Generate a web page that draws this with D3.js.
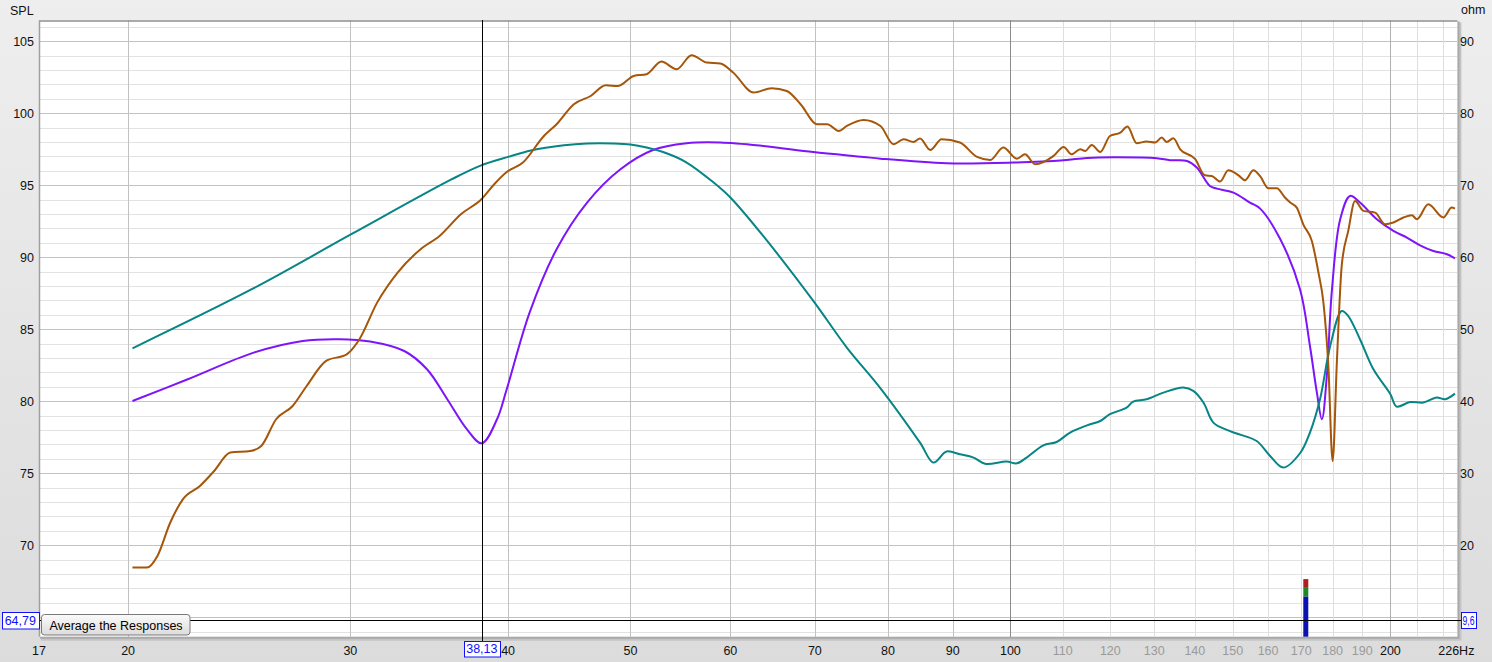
<!DOCTYPE html>
<html><head><meta charset="utf-8">
<script src="https://cdn.jsdelivr.net/npm/d3@7/dist/d3.min.js"></script>
<style>
html,body{margin:0;padding:0;overflow:hidden;background:#e2e2e2;}
svg{display:block;font-family:"Liberation Sans",Arial,sans-serif;}
</style>
</head><body>
<svg id="chart" width="1492" height="662"></svg>
<script>
// ---------------- data (frequency Hz, SPL dB) ----------------
const brownResponse = [
[20.16,68.45],[20.7,68.45],[21.1,69.26],[21.6,71.58],[22.1,73.19],[22.8,74.12],[23.4,75.16],[24.1,76.44],
[25.0,76.55],[25.5,76.90],[26.2,78.75],[27.0,79.67],[27.7,81.06],[28.7,82.80],[29.8,83.26],[30.5,84.31],
[31.5,86.85],[32.7,88.94],[34.1,90.56],[35.3,91.48],[36.7,92.99],[38.1,94.03],[39.0,95.07],[39.9,95.92],
[41.1,96.58],[42.7,98.42],[43.7,99.24],[45.1,100.63],[46.5,101.20],[47.8,101.94],[48.9,101.90],[50.3,102.59],
[51.5,102.71],[52.9,103.59],[54.4,103.06],[55.9,104.03],[57.5,103.52],[58.9,103.45],[60.3,102.83],[62.6,101.44],
[64.7,101.74],[66.5,101.55],[68.2,100.63],[70.3,99.24],[71.6,99.24],[73.1,98.77],[74.2,99.12],[76.5,99.53],
[78.9,99.12],[80.8,97.85],[82.3,98.19],[83.8,98.01],[84.8,98.24],[86.4,97.45],[88.2,98.19],[91.2,97.97],
[94.1,96.97],[96.4,96.76],[98.7,97.62],[101.2,96.85],[102.7,97.15],[104.6,96.46],[108.2,97.04],[110.2,97.66],
[111.8,97.15],[113.6,97.50],[114.6,97.38],[116.0,97.80],[117.8,97.31],[119.9,98.42],[122.2,98.66],[123.8,99.08],
[125.9,97.92],[128.2,98.04],[130.2,97.97],[131.8,98.31],[133.0,98.01],[134.6,98.26],[136.3,97.50],[140.1,96.81],
[142.6,95.69],[144.4,95.65],[146.6,95.26],[148.8,96.04],[151.6,95.69],[153.4,95.35],[155.8,96.04],[157.7,95.63],
[160.1,94.79],[162.6,94.79],[165.0,94.15],[166.6,93.80],[168.6,93.45],[170.6,92.29],[173.3,91.13],[175.4,88.94],
[177.0,86.85],[178.6,82.45],[180.0,75.85],[181.4,82.76],[183.0,89.40],[185.2,91.83],[187.5,93.91],[190.4,93.22],
[194.5,93.10],[198.1,92.29],[201.1,92.41],[204.8,92.76],[208.0,92.92],[209.9,92.64],[214.3,93.68],[220.3,92.76],
[223.7,93.45],[225.0,93.38]
];
const tealResponse = [
[20.16,83.68],[25.15,87.85],[30.05,91.6],[36.1,95.42],[38.0,96.35],[40.0,96.97],[41.7,97.42],
[44.3,97.78],[46.2,97.90],[48.5,97.90],[50.0,97.83],[51.5,97.62],[53.4,97.22],[55.4,96.58],[58.2,95.19],
[60.0,94.15],[63.7,91.48],[69.8,86.97],[74.2,83.73],[78.9,80.9],[84.8,77.13],[86.9,75.74],[89.0,76.51],
[91.2,76.32],[93.5,76.09],[95.5,75.66],[99.3,75.81],[101.2,75.69],[103.0,76.09],[106.2,76.94],[108.8,77.17],
[111.5,77.83],[115.0,78.33],[117.8,78.63],[119.9,79.10],[123.6,79.56],[125.1,79.98],[128.2,80.14],[132.2,80.60],
[137.1,80.95],[139.6,80.72],[142.2,79.91],[144.8,78.52],[148.4,78.01],[151.1,77.76],[156.7,77.24],[160.6,76.20],
[164.5,75.40],[169.6,76.39],[172.7,77.83],[175.9,80.14],[179.2,83.84],[183.0,86.27],[185.2,85.92],[189.2,84.31],
[193.9,82.22],[200.0,80.49],[202.3,79.63],[207.3,79.95],[212.4,79.91],[217.6,80.26],[221.0,80.14],[225.0,80.53]
];
const purpleResponse = [
[20.16,80.02],[22.3,81.53],[25.15,83.38],[27.5,84.19],[29.4,84.31],[31.1,84.15],[33.1,83.49],[34.5,82.22],
[35.8,80.14],[37.1,78.06],[38.13,77.08],[39.2,78.75],[39.9,80.83],[41.6,86.16],[43.7,90.56],[46.2,93.80],
[49.1,96.11],[52.1,97.45],[55.4,97.92],[58.9,97.97],[63.7,97.73],[69.8,97.31],[76.5,96.97],[78.9,96.85],
[89.0,96.53],[100.5,96.58],[110.2,96.74],[115.0,96.90],[120.7,96.94],[130.6,96.88],[133.8,96.74],[138.0,96.69],
[140.5,96.23],[143.9,94.95],[145.7,94.77],[150.2,94.49],[154.8,93.80],[157.7,93.38],[163.5,91.3],[169.6,87.78],
[172.7,83.84],[174.9,80.60],[176.5,78.75],[178.1,81.76],[179.7,87.55],[182.5,92.64],[185.8,94.26],[189.2,93.80],
[195.1,92.64],[201.1,91.83],[206.1,91.37],[211.1,90.83],[216.3,90.44],[221.7,90.21],[225.0,89.93]
];

const splTicks = [70,75,80,85,90,95,100,105];
const ohmTicks = [20,30,40,50,60,70,80,90];
const freqLabels = [17,20,30,40,50,60,70,80,90,100,110,120,130,140,150,160,170,180,190,200];
const grayLabelFreqs = [110,120,130,140,150,160,170,180,190];
const gridFreqs = [20,30,40,50,60,70,80,90,100,110,120,130,140,150,160,170,180,190,200,210,220];
const endFreq = 226;
const cursorFreq = 38.13;
const cursorText = "38,13";
const markerSpl = 64.79;
const markerSplText = "64,79";
const markerOhmText = "9,6";
const levelBarFreq = 171.4;
const levelBarStops = [63.65, 66.45, 67.1, 67.65];
const levelBarColors = ["#0a12b0", "#1c8a24", "#b01e1e"];

// ---------------- scales ----------------
const svg = d3.select("#chart");
const W = 1492, H = 662;
const plot = {left: 39, right: 1457.4, top: 20.4, bottom: 636.7};
const x = d3.scaleLog().domain([17, 226]).range([plot.left, plot.right]);
const y = d3.scaleLinear().domain([63.65, 106.45]).range([plot.bottom, plot.top]);
const yOhm = d3.scaleLinear().domain([2*63.65-120, 2*106.45-120]).range([plot.bottom, plot.top]);

// background
const defs = svg.append("defs");
const bg = defs.append("linearGradient").attr("id","bg").attr("x1",0).attr("y1",0).attr("x2",0).attr("y2",1);
bg.append("stop").attr("offset","0%").attr("stop-color","#eeeeee");
bg.append("stop").attr("offset","100%").attr("stop-color","#dcdcdc");
svg.append("rect").attr("width",W).attr("height",H).attr("fill","url(#bg)");

const btnG = defs.append("linearGradient").attr("id","btn").attr("x1",0).attr("y1",0).attr("x2",0).attr("y2",1);
btnG.append("stop").attr("offset","0%").attr("stop-color","#fbfbfb");
btnG.append("stop").attr("offset","100%").attr("stop-color","#dcdcdc");

// plot frame shadow
svg.append("rect").attr("x",plot.left+2).attr("y",plot.top+2)
  .attr("width",plot.right-plot.left+2).attr("height",plot.bottom-plot.top+2).attr("fill","#c4c4c4");
svg.append("rect").attr("x",plot.left+1).attr("y",plot.top+1)
  .attr("width",plot.right-plot.left+1).attr("height",plot.bottom-plot.top+1).attr("fill","#a9a9a9");
svg.append("rect").attr("x",plot.left).attr("y",plot.top)
  .attr("width",plot.right-plot.left).attr("height",plot.bottom-plot.top).attr("fill","#ffffff");

const grid = svg.append("g").attr("shape-rendering","crispEdges");
d3.range(64, 107).forEach(v => {
  const yy = Math.round(y(v)) + 0.5;
  grid.append("line").attr("x1",plot.left).attr("x2",plot.right).attr("y1",yy).attr("y2",yy)
    .attr("stroke", v % 5 === 0 ? "#c2c2c2" : "#e2e2e2").attr("stroke-width",1);
});
gridFreqs.forEach(f => {
  const xx = Math.round(x(f)) + 0.5;
  let c = "#c2c2c2";
  if (f === 100) c = "#8a8a8a";
  else if (f === 200) c = "#b0b0b0";
  else if (f > 100) c = "#dedede";
  grid.append("line").attr("x1",xx).attr("x2",xx).attr("y1",plot.top).attr("y2",plot.bottom)
    .attr("stroke", c).attr("stroke-width",1);
});

svg.append("line").attr("x1",plot.left).attr("x2",plot.right).attr("y1",plot.top+0.5).attr("y2",plot.top+0.5)
  .attr("stroke","#8f8f8f").attr("stroke-width",1.5);
svg.append("line").attr("x1",plot.left+0.5).attr("x2",plot.left+0.5).attr("y1",plot.top).attr("y2",plot.bottom)
  .attr("stroke","#a0a0a0").attr("stroke-width",1.5);

// level bar
const barW = 5;
levelBarColors.forEach((c,i) => {
  svg.append("rect").attr("x", x(levelBarFreq) - barW/2).attr("width", barW)
    .attr("y", y(levelBarStops[i+1])).attr("height", y(levelBarStops[i]) - y(levelBarStops[i+1]))
    .attr("fill", c);
});

// curves
const smooth = d3.line().x(d => x(d[0])).y(d => y(d[1])).curve(d3.curveCatmullRom.alpha(0.5));
const mono = d3.line().x(d => x(d[0])).y(d => y(d[1])).curve(d3.curveMonotoneX);
const curves = svg.append("g").attr("fill","none").attr("stroke-width",2).attr("stroke-linejoin","round");
curves.append("path").datum(purpleResponse).attr("d", smooth).attr("stroke", "#7d14fa");
curves.append("path").datum(tealResponse).attr("d", smooth).attr("stroke", "#078585");
curves.append("path").datum(brownResponse).attr("d", mono).attr("stroke", "#a5560a");

// cursor line
const cx = Math.round(x(cursorFreq)) + 0.5;
svg.append("line").attr("x1",cx).attr("x2",cx).attr("y1",plot.top).attr("y2",641)
  .attr("stroke","#000").attr("stroke-width",1).attr("shape-rendering","crispEdges");
// marker line
const my = Math.round(y(markerSpl)) + 0.5;
svg.append("line").attr("x1",plot.left).attr("x2",1461).attr("y1",my).attr("y2",my)
  .attr("stroke","#000").attr("stroke-width",1).attr("shape-rendering","crispEdges");

// axis labels
const txt = svg.append("g").attr("font-size","12.5px").attr("fill","#111");
splTicks.forEach(v => {
  txt.append("text").attr("x",34).attr("y",y(v)).attr("dy","0.36em").attr("text-anchor","end").text(v);
});
ohmTicks.forEach(v => {
  txt.append("text").attr("x",1460).attr("y",yOhm(v)).attr("dy","0.36em").attr("text-anchor","start").text(v);
});
txt.append("text").attr("x",10).attr("y",10).attr("dy","0.36em").text("SPL");
txt.append("text").attr("x",1461).attr("y",9).attr("dy","0.36em").text("ohm");
freqLabels.forEach(f => {
  txt.append("text").attr("x",x(f)).attr("y",650).attr("dy","0.36em").attr("text-anchor","middle")
    .attr("fill", grayLabelFreqs.includes(f) ? "#9a9a9a" : "#111").text(f);
});
txt.append("text").attr("x",x(endFreq)+17).attr("y",650).attr("dy","0.36em").attr("text-anchor","end").text(endFreq + "Hz");

// blue value boxes
function valueBox(cxm, cym, w, h, label, tl) {
  svg.append("rect").attr("x",Math.round(cxm - w/2)+0.5).attr("y",Math.round(cym - h/2)+0.5).attr("width",w).attr("height",h)
    .attr("fill","#ffffff").attr("stroke","#1010ff").attr("stroke-width",1);
  const t = svg.append("text").attr("x",cxm).attr("y",cym).attr("dy","0.36em").attr("text-anchor","middle")
    .attr("font-size","12.5px").attr("fill","#1010ff").text(label);
  if (tl) t.attr("textLength", tl).attr("lengthAdjust","spacingAndGlyphs");
}
valueBox(20.3, 620.6, 37, 16.5, markerSplText);
valueBox(1468.5, 620.3, 15, 16, markerOhmText, 12);
valueBox(x(cursorFreq), 648.8, 36, 15.5, cursorText);

// button
svg.append("rect").attr("x",41.5).attr("y",614.5).attr("width",148.5).attr("height",20.5).attr("rx",3)
  .attr("fill","url(#btn)").attr("stroke","#7a7a7a");
svg.append("text").attr("x",116).attr("y",625).attr("dy","0.36em").attr("text-anchor","middle")
  .attr("font-size","12.5px").attr("fill","#000").text("Average the Responses");
</script>
</body></html>
